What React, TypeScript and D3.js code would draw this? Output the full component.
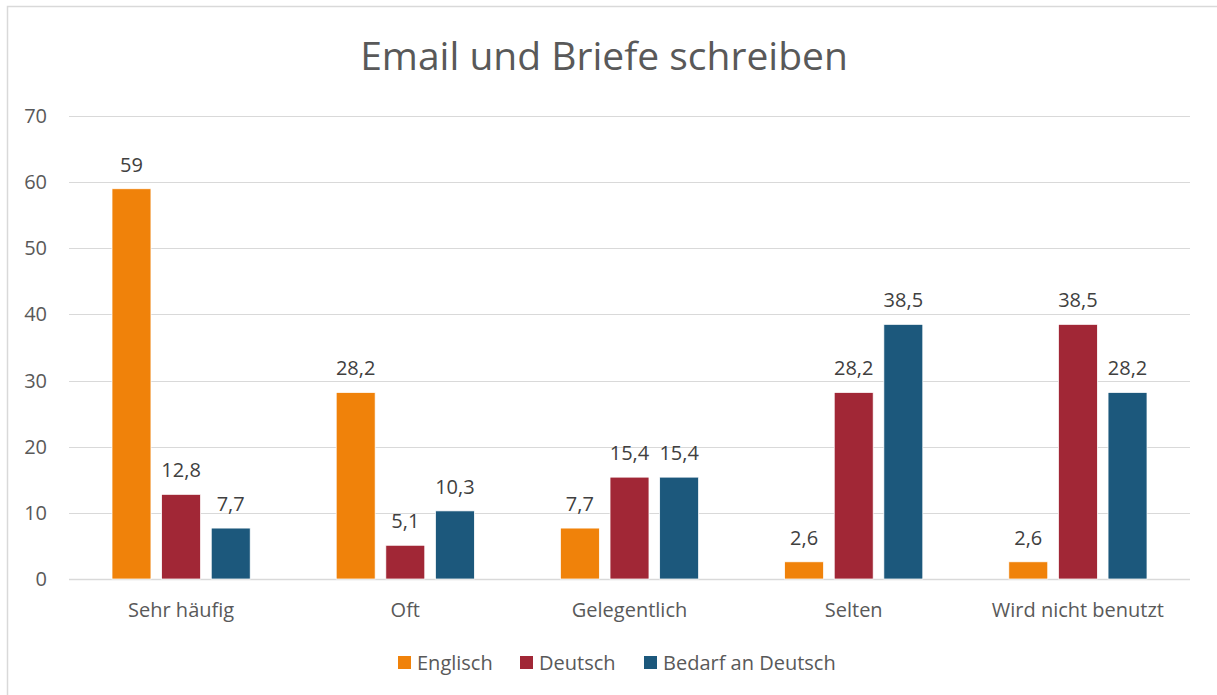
import { useEffect, useRef } from 'react'
import * as d3 from 'd3'

const categories = ['Sehr häufig', 'Oft', 'Gelegentlich', 'Selten', 'Wird nicht benutzt']
const seriesNames = ['Englisch', 'Deutsch', 'Bedarf an Deutsch']
const englisch = [59, 28.2, 7.7, 2.6, 2.6]
const deutsch = [12.8, 5.1, 15.4, 28.2, 38.5]
const bedarf = [7.7, 10.3, 15.4, 38.5, 28.2]
const yTicks = [0, 10, 20, 30, 40, 50, 60, 70]
const colors = ['#F0820A', '#A12736', '#1C587C']

const W = 1217
const H = 695
const FONT = '"Open Sans", "Noto Sans", sans-serif'
const TEXT = '#595959'

export default function App() {
  const svgRef = useRef<SVGSVGElement>(null)

  useEffect(() => {
    if (!svgRef.current) return
    const svg = d3.select(svgRef.current)
    svg.selectAll('*').remove()

    const values = [englisch, deutsch, bedarf]
    const plot = { left: 69, right: 1190, top: 116, bottom: 579 }

    // chart border (right and bottom edges fall outside the picture)
    svg.append('rect')
      .attr('x', 7.5).attr('y', 6.5)
      .attr('width', W + 20).attr('height', H + 20)
      .attr('fill', '#fff')
      .attr('stroke', '#d9d9d9')
      .attr('stroke-width', 1.5)

    svg.append('text')
      .attr('x', 604).attr('y', 70)
      .attr('text-anchor', 'middle')
      .style('font-family', FONT)
      .style('font-size', '39px')
      .style('fill', TEXT)
      .text('Email und Briefe schreiben')

    const y = d3.scaleLinear().domain([0, 70]).range([plot.bottom, plot.top])
    const x0 = d3.scaleBand<string>().domain(categories).range([plot.left, plot.right]).padding(0)
    const groupPad = 43
    const x1 = d3.scaleBand<string>()
      .domain(seriesNames)
      .range([groupPad, x0.bandwidth() - groupPad])
      .paddingInner(0.215)
      .paddingOuter(0)

    // grid
    svg.append('g')
      .selectAll('line')
      .data(yTicks)
      .enter().append('line')
      .attr('x1', plot.left).attr('x2', plot.right)
      .attr('y1', d => Math.round(y(d)) + 0.5)
      .attr('y2', d => Math.round(y(d)) + 0.5)
      .attr('stroke', '#d9d9d9')
      .attr('stroke-width', d => d === 0 ? 1.5 : 1.2)

    svg.append('g')
      .selectAll('text')
      .data(yTicks)
      .enter().append('text')
      .attr('x', 47)
      .attr('y', d => y(d))
      .attr('dy', '0.35em')
      .attr('text-anchor', 'end')
      .style('font-family', FONT)
      .style('font-size', '20px')
      .style('fill', TEXT)
      .text(d => String(d))

    // bars
    const fmt = (v: number) => String(v).replace('.', ',')
    seriesNames.forEach((s, si) => {
      const g = svg.append('g')
      g.selectAll('rect')
        .data(values[si])
        .enter().append('rect')
        .attr('x', (_, i) => (x0(categories[i]) ?? 0) + (x1(s) ?? 0))
        .attr('y', d => y(d))
        .attr('width', x1.bandwidth())
        .attr('height', d => y(0) - y(d))
        .attr('fill', colors[si])
        .attr('stroke', '#fff')
        .attr('stroke-width', 0.75)

      g.selectAll('text')
        .data(values[si])
        .enter().append('text')
        .attr('x', (_, i) => (x0(categories[i]) ?? 0) + (x1(s) ?? 0) + x1.bandwidth() / 2)
        .attr('y', d => y(d) - 17)
        .attr('text-anchor', 'middle')
        .style('font-family', FONT)
        .style('font-size', '20px')
        .style('fill', '#404040')
        .text(d => fmt(d))
    })

    // category labels
    svg.append('g')
      .selectAll('text')
      .data(categories)
      .enter().append('text')
      .attr('x', d => (x0(d) ?? 0) + x0.bandwidth() / 2)
      .attr('y', 617)
      .attr('text-anchor', 'middle')
      .style('font-family', FONT)
      .style('font-size', '20px')
      .style('fill', TEXT)
      .text(d => d)

    // legend
    const legendX = [398, 520, 644]
    const legend = svg.append('g')
    seriesNames.forEach((s, si) => {
      legend.append('rect')
        .attr('x', legendX[si]).attr('y', 656)
        .attr('width', 13).attr('height', 13)
        .attr('fill', colors[si])
      legend.append('text')
        .attr('x', legendX[si] + 19).attr('y', 662.5)
        .attr('dy', '0.35em')
        .style('font-family', FONT)
        .style('font-size', '20px')
        .style('fill', TEXT)
        .text(s)
    })
  }, [])

  return (
    <svg
      ref={svgRef}
      width={W}
      height={H}
      style={{ position: 'absolute', left: 0, top: 0, display: 'block' }}
    />
  )
}
